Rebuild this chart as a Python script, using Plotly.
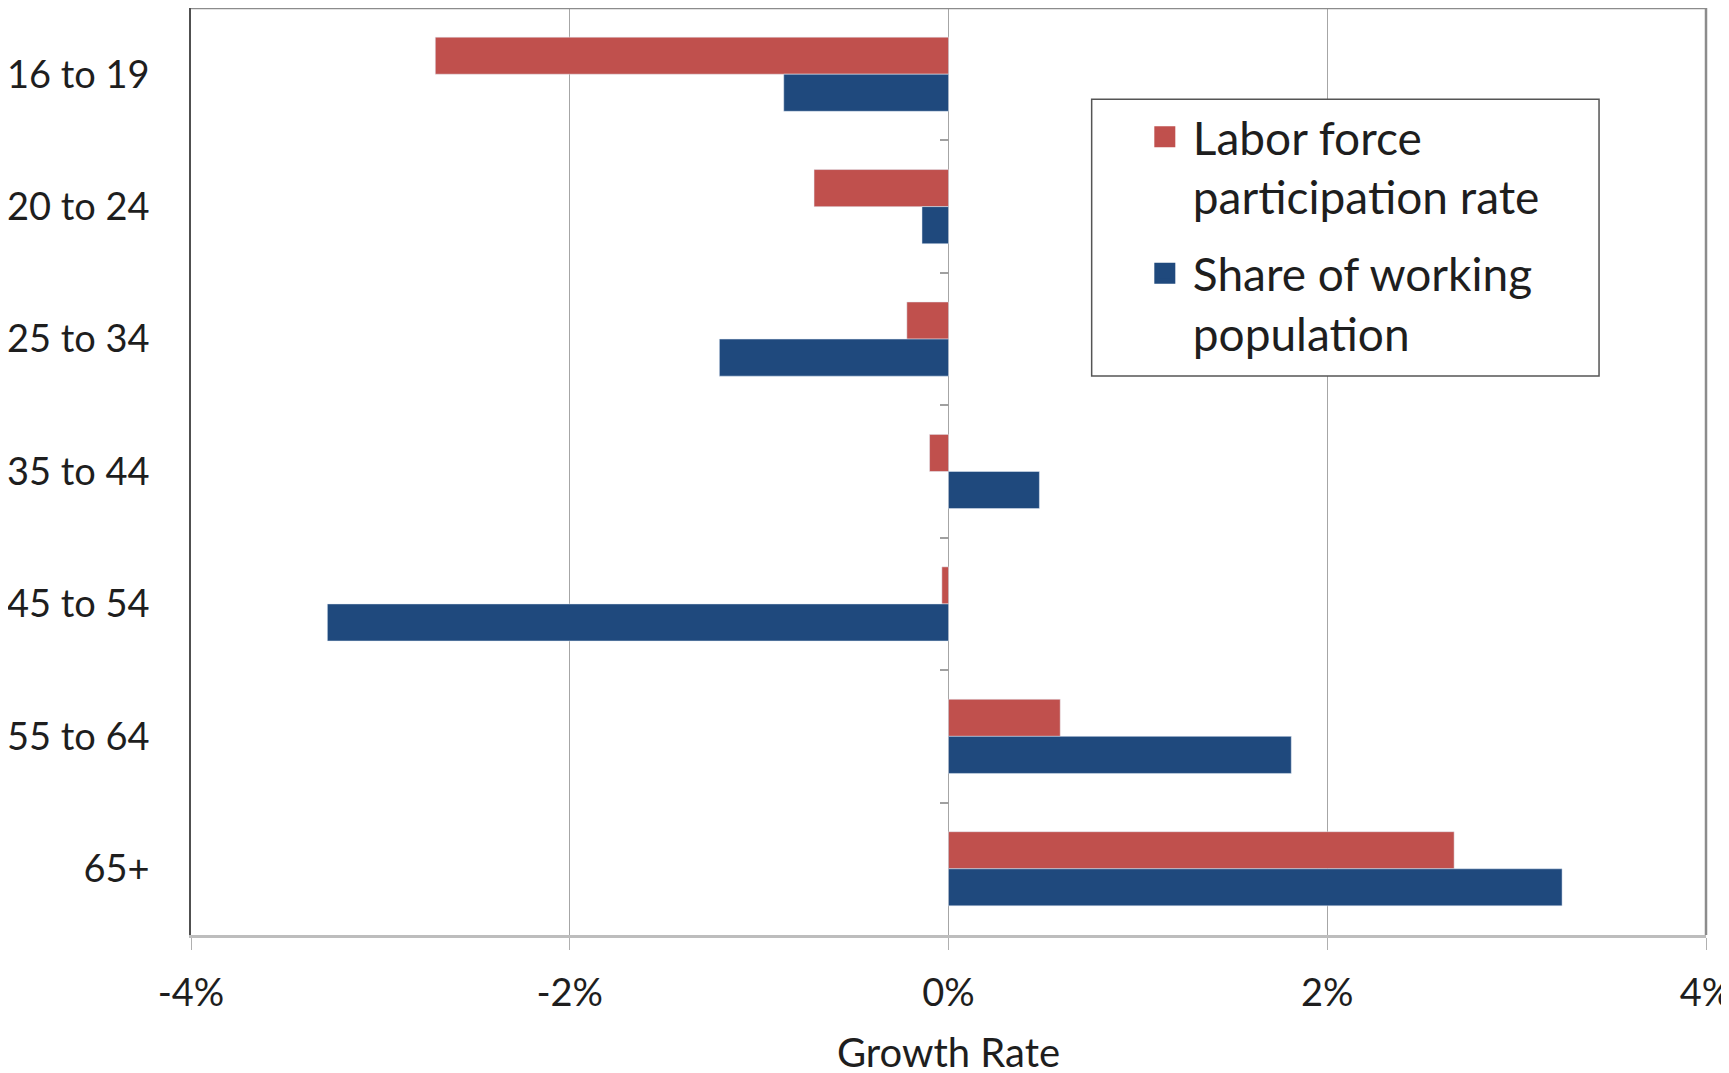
import plotly.graph_objects as go

categories = ["16 to 19", "20 to 24", "25 to 34", "35 to 44", "45 to 54", "55 to 64", "65+"]
labor_force_rate = [-2.71, -0.71, -0.22, -0.10, -0.035, 0.59, 2.67]
share_working_pop = [-0.87, -0.14, -1.21, 0.48, -3.28, 1.81, 3.24]
x_ticks = [-4, -2, 0, 2, 4]
x_tick_labels = ["-4%", "-2%", "0%", "2%", "4%"]
series_names = ["Labor force<br>participation rate", "Share of working<br>population"]

RED = "#C0504D"
BLUE = "#1F497D"
FONT = "Lato"

fig = go.Figure()
fig.add_trace(go.Bar(y=categories, x=labor_force_rate, orientation="h", marker_color=RED,
                     name=series_names[0], showlegend=False))
fig.add_trace(go.Bar(y=categories, x=share_working_pop, orientation="h", marker_color=BLUE,
                     name=series_names[1], showlegend=False))
# legend entries
fig.add_trace(go.Scatter(x=[None], y=[None], mode="markers", name=series_names[0], legendgroup="a",
                         marker=dict(symbol="square", size=16, color=RED, line=dict(color=RED, width=5))))
fig.add_trace(go.Scatter(x=[None], y=[None], mode="markers", name=series_names[1], legendgroup="b",
                         marker=dict(symbol="square", size=16, color=BLUE, line=dict(color=BLUE, width=5))))
# helper trace for tick marks at the zero line
fig.add_trace(go.Scatter(x=[None] * len(categories), y=categories, yaxis="y2", mode="markers",
                         showlegend=False, hoverinfo="skip"))

fig.update_layout(
    width=1729, height=1073,
    margin=dict(l=183, r=31, t=0, b=146),
    paper_bgcolor="white", plot_bgcolor="white",
    font=dict(family=FONT, size=38, color="#1e1e1e"),
    barmode="group", bargap=0.44, bargroupgap=0,
    xaxis=dict(range=[-4, 4], tickvals=x_ticks, ticktext=x_tick_labels, automargin=False,
               showgrid=True, gridcolor="#A6A6A6", gridwidth=1,
               zeroline=True, zerolinecolor="#A6A6A6", zerolinewidth=1,
               showline=True, linecolor="#BDBDBD", linewidth=2.5,
               ticks="outside", ticklen=12, tickcolor="#B0B0B0", tickwidth=1,
               ticklabelstandoff=11,
               title=dict(text="Growth Rate", standoff=26, font=dict(size=40))),
    yaxis=dict(type="category", categoryorder="array", categoryarray=categories,
               autorange="reversed", showgrid=False, zeroline=False, automargin=False,
               showline=True, linecolor="#505050", linewidth=1.5,
               ticks="", ticklabelstandoff=32),
    yaxis2=dict(type="category", matches="y", overlaying="y", anchor="free", position=0.5,
                side="left", showgrid=False, zeroline=False, showline=False, automargin=False,
                ticks="outside", tickson="boundaries", ticklen=9, tickcolor="#A0A0A0",
                tickwidth=1.5, showticklabels=False),
    legend=dict(x=0.6243, y=0.9004, xanchor="left", yanchor="top",
                borderwidth=0, bgcolor="rgba(0,0,0,0)",
                valign="top", font=dict(size=46), itemsizing="trace", itemwidth=46,
                tracegroupgap=14, traceorder="grouped"),
    shapes=[
        dict(type="rect", xref="paper", yref="paper", x0=0.5945, x1=0.9294, y0=0.603, y1=0.9016,
             line=dict(color="#555555", width=1.5), fillcolor="white", layer="above"),
        dict(type="line", xref="paper", yref="paper", x0=0, x1=1, y0=1, y1=1,
             line=dict(color="#8C8C8C", width=2.5), layer="above"),
        dict(type="line", xref="paper", yref="paper", x0=1, x1=1, y0=0, y1=1,
             line=dict(color="#8C8C8C", width=2.5), layer="above"),
    ],
)

fig.write_html("out.html")
